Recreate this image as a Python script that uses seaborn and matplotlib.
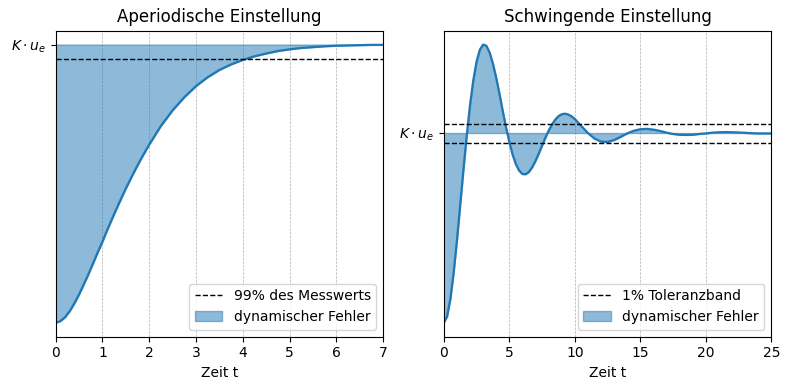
import numpy as np
import pandas as pd
import matplotlib
matplotlib.use("Agg")
import matplotlib.pyplot as plt
import seaborn as sb
from matplotlib.lines import Line2D
from matplotlib.patches import Patch

# aperiodic step response
t_ap = [0.0, 0.1, 0.2, 0.3, 0.4, 0.5, 0.6, 0.7, 0.8, 0.9, 1.0, 1.1, 1.2, 1.3,
	1.4, 1.5, 1.6, 1.7, 1.8, 1.9, 2.0, 2.25, 2.5, 2.75, 3.0, 3.25, 3.5, 3.75,
	4.0, 4.25, 4.5, 4.75, 5.0, 5.25, 5.5, 5.75, 6.0, 6.25, 6.5, 6.75, 7.0]
y_ap = [0.000, 0.006, 0.020, 0.042, 0.070, 0.102, 0.138, 0.175, 0.214, 0.254,
	0.292, 0.333, 0.372, 0.410, 0.447, 0.483, 0.517, 0.550, 0.582, 0.612,
	0.641, 0.708, 0.764, 0.811, 0.851, 0.883, 0.909, 0.929, 0.945, 0.958,
	0.968, 0.977, 0.983, 0.988, 0.991, 0.994, 0.996, 0.997, 0.998, 0.999,
	0.999]

# oscillating step response
t_osc = [0.0, 0.25, 0.5, 0.75, 1.0, 1.25, 1.5, 1.75, 2.0, 2.25, 2.5, 2.75,
	3.0, 3.25, 3.5, 3.75, 4.0, 4.25, 4.5, 4.75, 5.0, 5.25, 5.5, 5.75, 6.0,
	6.25, 6.5, 6.75, 7.0, 7.25, 7.5, 7.75, 8.0, 8.25, 8.5, 8.75, 9.0, 9.25,
	9.5, 9.75, 10.0, 10.5, 11.0, 11.5, 12.0, 12.5, 13.0, 13.5, 14.0, 14.5,
	15.0, 15.5, 16.0, 16.5, 17.0, 17.5, 18.0, 18.5, 19.0, 19.5, 20.0, 20.5,
	21.0, 21.5, 22.0, 22.5, 23.0, 23.5, 24.0, 24.5, 25.0]
y_osc = [0.000, 0.033, 0.124, 0.262, 0.431, 0.618, 0.806, 0.986, 1.146, 1.277,
	1.376, 1.439, 1.466, 1.460, 1.424, 1.366, 1.291, 1.207, 1.116, 1.031,
	0.953, 0.887, 0.836, 0.802, 0.784, 0.783, 0.795, 0.820, 0.853, 0.892,
	0.933, 0.974, 1.012, 1.044, 1.070, 1.089, 1.099, 1.102, 1.098, 1.088,
	1.074, 1.037, 1.000, 0.971, 0.955, 0.953, 0.963, 0.980, 0.998, 1.012,
	1.020, 1.022, 1.018, 1.011, 1.002, 0.995, 0.991, 0.990, 0.991, 0.995,
	0.998, 1.002, 1.004, 1.005, 1.004, 1.003, 1.001, 0.999, 0.998, 0.998,
	0.998]

final_value = 1.0
band_ap = [0.95]
band_osc = [1.05, 0.95]

panels = [
	("Aperiodische Einstellung", t_ap, y_ap, band_ap, "99% des Messwerts", [0, 7]),
	("Schwingende Einstellung", t_osc, y_osc, band_osc, "1% Toleranzband", [0, 25]),
]

fig, axes = plt.subplots(ncols=2, figsize=(7.9, 3.9), dpi=100)
fig.subplots_adjust(left=0.0705, right=0.9763, bottom=0.1367, top=0.9213, wspace=0.185)

for ax, (title, t, y, band, band_label, xlim) in zip(axes, panels):
	df = pd.DataFrame({"t": t, "y": y})
	sb.lineplot(data=df, x="t", y="y", ax=ax, color="C0", linewidth=1.6)
	ax.fill_between(df["t"], df["y"], final_value, color="C0", alpha=0.5)
	for b in band:
		ax.axhline(b, color="black", linestyle="--", linewidth=1)
	ax.set_xlim(xlim)
	ax.set_yticks([final_value])
	ax.set_yticklabels([r"$K \cdot u_e$"])
	ax.grid(axis="x", linestyle="--", linewidth=0.5)
	ax.set_axisbelow(True)
	ax.set_title(title)
	ax.set_xlabel("Zeit t")
	ax.set_ylabel("")
	handles = [Line2D([], [], color="black", linestyle="--", linewidth=1),
		Patch(facecolor="C0", edgecolor="C0", alpha=0.5)]
	ax.legend(handles, [band_label, "dynamischer Fehler"], loc="lower right")

plt.savefig("out.png")
